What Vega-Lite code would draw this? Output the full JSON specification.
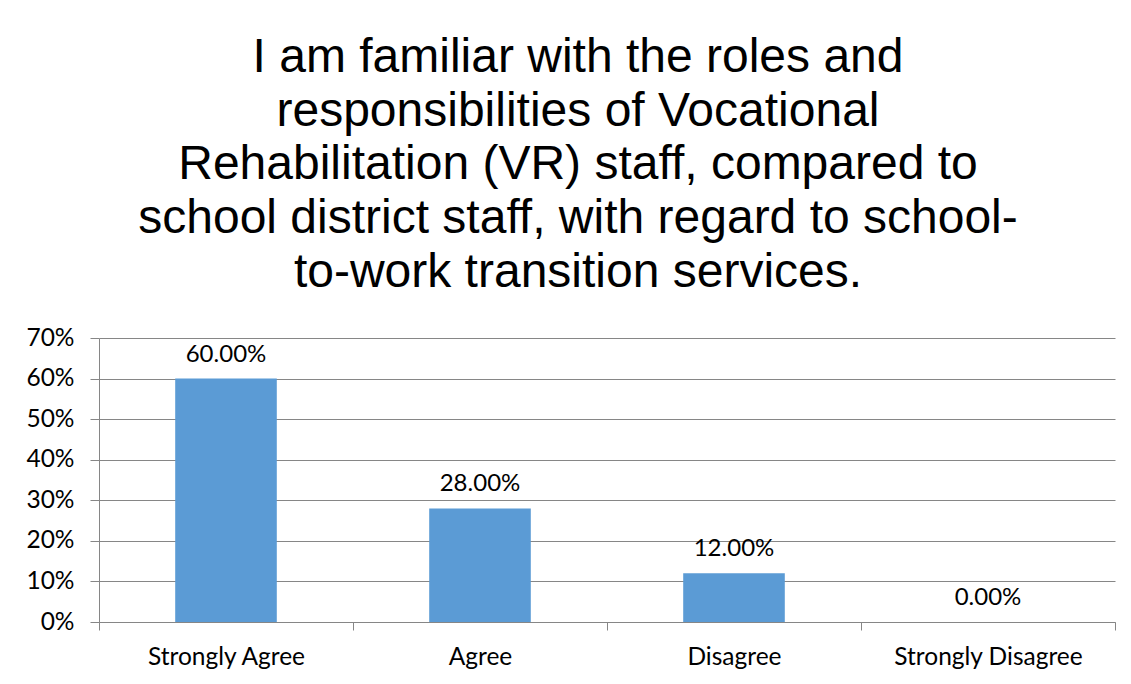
{
  "$schema": "https://vega.github.io/schema/vega-lite/v6.json",
  "autosize": "none",
  "width": 1016,
  "height": 284,
  "padding": {"left": 99, "top": 338, "right": 16, "bottom": 62},
  "background": "white",
  "title": {
    "text": ["I am familiar with the roles and", "responsibilities of Vocational", "Rehabilitation (VR) staff, compared to", "school district staff, with regard to school-", "to-work transition services."],
    "font": "Liberation Sans",
    "fontSize": 48,
    "fontWeight": "normal",
    "color": "#000000",
    "lineHeight": 53.8,
    "anchor": "middle",
    "frame": "group",
    "dx": -29,
    "offset": 28
  },
  "data": {
    "values": [
      {"response": "Strongly Agree", "value": 0.60},
      {"response": "Agree", "value": 0.28},
      {"response": "Disagree", "value": 0.12},
      {"response": "Strongly Disagree", "value": 0.0}
    ]
  },
  "encoding": {
    "x": {
      "field": "response",
      "type": "nominal",
      "sort": null,
      "scale": {"paddingInner": 0, "paddingOuter": 0},
      "axis": {
        "title": null,
        "labelAngle": 0,
        "labelFont": "Lato",
        "labelFontSize": 24.5,
        "labelColor": "#000000",
        "labelPadding": 15,
        "labelLimit": 400,
        "tickBand": "extent",
        "tickSize": 8,
        "tickColor": "#868686",
        "domainColor": "#868686",
        "grid": false
      }
    },
    "y": {
      "field": "value",
      "type": "quantitative",
      "scale": {"domain": [0, 0.7], "nice": false},
      "axis": {
        "title": null,
        "values": [0, 0.1, 0.2, 0.3, 0.4, 0.5, 0.6, 0.7],
        "format": ".0%",
        "labelFont": "Lato",
        "labelFontSize": 24.5,
        "labelColor": "#000000",
        "labelPadding": 16,
        "tickSize": 9,
        "tickColor": "#868686",
        "domainColor": "#868686",
        "gridColor": "#868686",
        "grid": true
      }
    }
  },
  "layer": [
    {"mark": {"type": "bar", "color": "#5B9BD5", "width": {"band": 0.4}}},
    {
      "mark": {"type": "text", "baseline": "alphabetic", "dy": -17, "font": "Lato", "fontSize": 24, "color": "#000000"},
      "encoding": {"text": {"field": "value", "type": "quantitative", "format": ".2%"}}
    }
  ],
  "config": {"view": {"stroke": null}}
}
